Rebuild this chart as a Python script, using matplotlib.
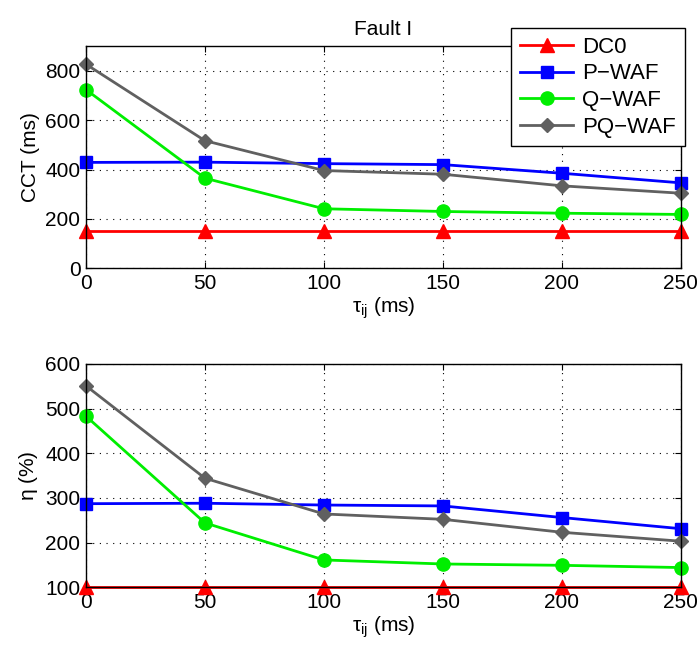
import matplotlib.pyplot as plt

plt.rcParams["font.family"] = ["Liberation Sans", "DejaVu Sans"]
plt.rcParams["mathtext.fontset"] = "custom"
plt.rcParams["mathtext.rm"] = "Liberation Sans"
plt.rcParams["mathtext.it"] = "Liberation Sans"

tau = [0, 50, 100, 150, 200, 250]

# CCT (ms)
cct_dc0 = [150, 150, 150, 150, 150, 150]
cct_pwaf = [429, 430, 424, 420, 385, 346]
cct_qwaf = [724, 365, 241, 230, 223, 218]
cct_pqwaf = [827, 517, 396, 381, 334, 304]

# eta (%)
eta_dc0 = [100, 100, 100, 100, 100, 100]
eta_pwaf = [287, 288, 284, 282, 256, 231]
eta_qwaf = [483, 244, 161, 152, 149, 144]
eta_pqwaf = [551, 344, 264, 252, 223, 203]

labels = ["DC0", "P\u2212WAF", "Q\u2212WAF", "PQ\u2212WAF"]
styles = [
    dict(color="#ff0000", marker="^", markersize=9.5),
    dict(color="#0000ff", marker="s", markersize=8),
    dict(color="#00ee00", marker="o", markersize=9.5),
    dict(color="#606060", marker="D", markersize=7.5),
]

FS = 15


def style_axes(ax):
    ax.grid(True, color="black", linestyle=(0, (1, 5)), linewidth=0.8)
    ax.tick_params(direction="in", top=True, right=True, labelsize=FS, length=4, pad=4)
    for spine in ax.spines.values():
        spine.set_linewidth(1.0)


fig = plt.figure(figsize=(6.99, 6.51), dpi=100)
ax1 = fig.add_axes([0.123, 0.588, 0.851, 0.341])
ax2 = fig.add_axes([0.123, 0.098, 0.851, 0.343])

top_series = [cct_dc0, cct_pwaf, cct_qwaf, cct_pqwaf]
bottom_series = [eta_dc0, eta_pwaf, eta_qwaf, eta_pqwaf]

lines = []
for values, label, st in zip(top_series, labels, styles):
    (line,) = ax1.plot(tau, values, linewidth=2, label=label, clip_on=False, **st)
    lines.append(line)
for values, st in zip(bottom_series, styles):
    ax2.plot(tau, values, linewidth=2, clip_on=False, **st)

ax1.set_xlim(0, 250)
ax1.set_ylim(0, 900)
ax1.set_yticks([0, 200, 400, 600, 800])
ax1.set_xticks(tau)
ax1.set_ylabel("CCT (ms)", fontsize=FS)
ax1.set_xlabel(r"$\tau_{\rm ij}$ (ms)", fontsize=FS, labelpad=2)
ax1.set_title("Fault I", fontsize=FS, pad=8)
style_axes(ax1)

ax2.set_xlim(0, 250)
ax2.set_ylim(100, 600)
ax2.set_yticks([100, 200, 300, 400, 500, 600])
ax2.set_xticks(tau)
ax2.set_ylabel(r"$\eta$ (%)", fontsize=FS)
ax2.set_xlabel(r"$\tau_{\rm ij}$ (ms)", fontsize=FS, labelpad=2)
style_axes(ax2)

leg = fig.legend(
    lines,
    labels,
    loc="upper right",
    bbox_to_anchor=(0.980, 0.957),
    bbox_transform=fig.transFigure,
    borderaxespad=0,
    fancybox=False,
    edgecolor="black",
    framealpha=1,
    fontsize=16,
    handlelength=2.4,
    handletextpad=0.4,
    labelspacing=0.25,
    borderpad=0.4,
)
leg.get_frame().set_linewidth(1.0)

fig.savefig("out.png", dpi=100)
